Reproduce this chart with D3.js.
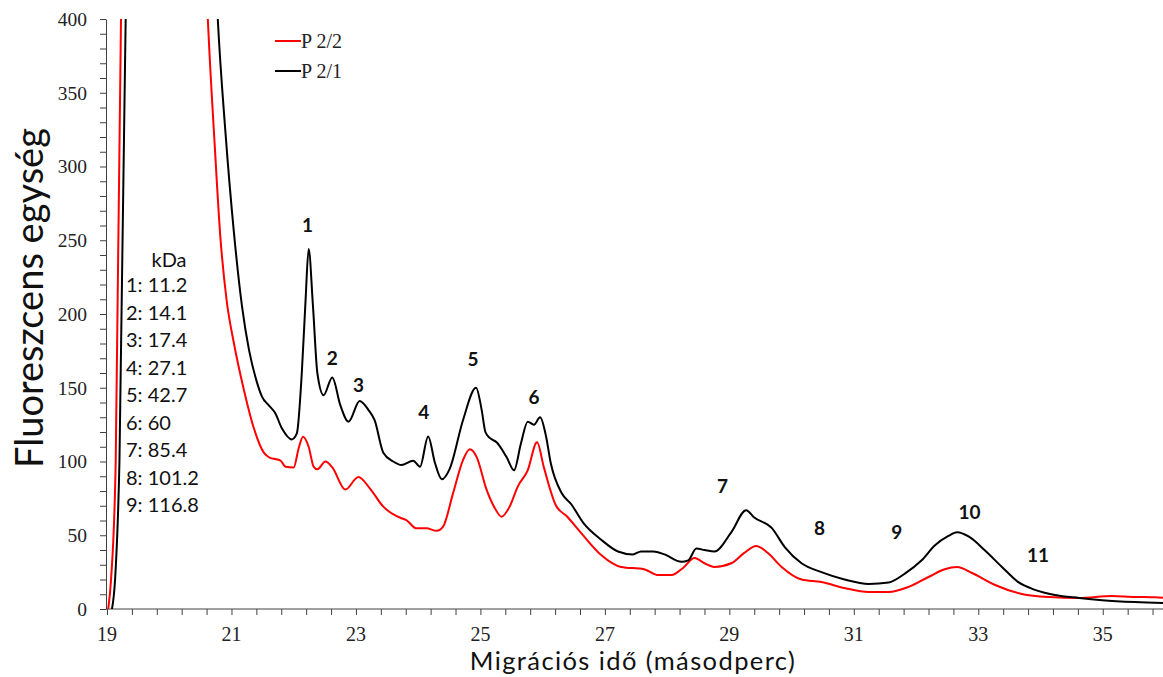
<!DOCTYPE html>
<html>
<head>
<meta charset="utf-8">
<script src="https://cdn.jsdelivr.net/npm/d3@7"></script>
<style>
  body { margin: 0; background: #fff; }
  svg { display: block; }
</style>
</head>
<body>
<div id="chart"></div>
<script>
// P 2/1 (black) – [migration time, fluorescence]
var p21 = [
  [19.08, 0], [19.13, 20], [19.2, 100], [19.3, 400], [19.34, 600],
  [20.6, 600], [20.78, 400], [20.9, 325], [21.04, 255], [21.17, 205],
  [21.28, 176], [21.4, 155], [21.49, 144], [21.6, 138], [21.7, 133], [21.81, 122.5],
  [21.97, 115], [22.05, 119], [22.13, 160],
  [22.19, 209], [22.24, 244], [22.31, 205], [22.38, 160], [22.48, 145], [22.62, 157],
  [22.75, 138], [22.88, 127], [23.06, 141], [23.2, 135], [23.3, 128], [23.44, 106],
  [23.6, 100], [23.73, 97.6], [23.92, 100.5], [24.03, 96.5], [24.16, 117], [24.27, 99],
  [24.38, 88], [24.51, 95.4], [24.72, 128], [24.93, 150], [25.02, 135], [25.08, 120],
  [25.15, 116], [25.26, 113], [25.42, 103], [25.54, 94], [25.65, 112], [25.76, 127], [25.86, 125],
  [25.96, 130], [26.05, 118], [26.13, 99], [26.3, 79], [26.46, 71], [26.66, 58],
  [26.94, 47], [27.21, 39], [27.45, 37], [27.58, 39], [27.78, 39], [27.96, 37],
  [28.23, 32], [28.34, 33], [28.47, 41], [28.6, 40], [28.76, 39], [29.03, 52],
  [29.27, 67], [29.4, 62], [29.68, 55], [29.89, 42], [30.16, 31], [30.48, 25],
  [30.85, 20], [31.24, 17], [31.56, 18], [31.82, 24], [32.09, 33], [32.3, 43],
  [32.52, 49.5], [32.66, 52], [32.85, 49], [33.1, 40], [33.38, 28.5], [33.65, 18],
  [33.91, 13], [34.23, 9.5], [34.62, 7.5], [34.99, 6], [35.52, 4.7], [36, 4]
];

// P 2/2 (red)
var p22 = [
  [19.02, 0], [19.065, 20], [19.14, 100], [19.225, 400], [19.26, 600],
  [20.45, 600], [20.62, 400], [20.73, 315], [20.82, 253], [20.92, 210], [21.04, 180],
  [21.2, 148.5], [21.36, 122.5], [21.52, 106], [21.62, 102.5], [21.72, 101.5],
  [21.79, 100.5], [21.87, 96.5],
  [22.0, 96], [22.08, 109], [22.15, 116.8], [22.24, 110], [22.32, 96.5], [22.38, 94.7],
  [22.51, 100], [22.62, 96], [22.83, 81], [23.04, 89.5], [23.22, 82], [23.44, 69.4],
  [23.73, 61.5], [23.81, 60.3], [23.97, 54.7], [24.13, 54.7], [24.3, 53], [24.4, 55.8],
  [24.56, 78.4], [24.72, 101], [24.83, 108.3], [24.94, 103], [25.1, 80.7], [25.23, 68.5],
  [25.34, 62.6], [25.47, 69.4], [25.6, 83], [25.76, 94],
  [25.91, 113], [26.02, 96], [26.21, 70.5], [26.4, 62.4], [26.62, 51.5], [26.94, 36.6],
  [27.26, 28.5], [27.63, 27], [27.86, 23], [28.07, 23], [28.26, 28], [28.44, 34.6],
  [28.6, 31], [28.76, 28.5], [29.03, 31], [29.24, 38], [29.43, 42.7], [29.62, 38],
  [29.84, 28.5], [30.16, 20], [30.48, 18.3], [30.85, 14.2], [31.24, 11.5], [31.56, 11.5],
  [31.88, 15], [32.2, 21.7], [32.46, 27], [32.66, 28.5], [32.9, 24.4], [33.27, 16.3],
  [33.7, 10.2], [34.14, 8.1], [34.62, 7.5], [35.15, 8.8], [35.52, 8.1], [35.84, 8],
  [36, 7.5]
];

var seriesNames = ["P 2/2", "P 2/1"];
var seriesColors = ["#ff0000", "#000000"];

var peakLabels = ["1", "2", "3", "4", "5", "6", "7", "8", "9", "10", "11"];
var peakX = [22.22, 22.62, 23.04, 24.09, 24.88, 25.86, 28.89, 30.45, 31.69, 32.86, 33.96];
var peakY = [260.3, 170.2, 151.9, 133.6, 169.5, 143.7, 83.4, 54.9, 52.2, 65.8, 36.3];

var kdaLines = ["1: 11.2", "2: 14.1", "3: 17.4", "4: 27.1", "5: 42.7",
                "6: 60", "7: 85.4", "8: 101.2", "9: 116.8"];

var xTicksMajor = [19, 21, 23, 25, 27, 29, 31, 33, 35];
var yTicksMajor = [0, 50, 100, 150, 200, 250, 300, 350, 400];

var W = 1163, H = 677;
var plotLeft = 106, plotTop = 19, plotBottom = 609, plotRight = 1165;

var x = d3.scaleLinear().domain([19, 36]).range([107, plotRight]);
var y = d3.scaleLinear().domain([0, 400]).range([plotBottom, plotTop]);

var svg = d3.select("#chart").append("svg")
  .attr("width", W)
  .attr("height", H);

svg.append("defs").append("clipPath").attr("id", "plot")
  .append("rect")
  .attr("x", plotLeft).attr("y", plotTop)
  .attr("width", W - plotLeft).attr("height", plotBottom - plotTop);

/* Axes */
var axisColor = "#404040";
var serif = "'Liberation Serif', 'Times New Roman', serif";
var sans = "Lato, 'Open Sans', sans-serif";

var xMinor = d3.range(0, 43).map(i => 19 + i * 0.4);
var yMinor = d3.range(0, 401, 10);

var gx = svg.append("g").attr("transform", `translate(0,${plotBottom})`);
gx.call(d3.axisBottom(x).tickValues(xMinor).tickSize(6).tickFormat(""));
gx.selectAll(".tick text").remove();
gx.selectAll("line, path").attr("stroke", axisColor);
gx.select(".domain").attr("d", `M${plotLeft},0H${W}`);
gx.selectAll(".xlab").data(xTicksMajor).enter().append("text")
  .attr("x", d => x(d)).attr("y", 32)
  .attr("text-anchor", "middle")
  .style("font-family", serif).style("font-size", "20px").attr("fill", "#222")
  .text(d => d);

var gy = svg.append("g").attr("transform", `translate(${plotLeft},0)`);
gy.call(d3.axisLeft(y).tickValues(yMinor).tickSize(6).tickSizeOuter(0).tickFormat(""));
gy.selectAll("line, path").attr("stroke", axisColor);
gy.selectAll(".ylab").data(yTicksMajor).enter().append("text")
  .attr("x", -19).attr("y", d => y(d))
  .attr("dy", "0.35em")
  .attr("text-anchor", "end")
  .style("font-family", serif).style("font-size", "19.5px").attr("fill", "#222")
  .text(d => d);

/* Lines */
var line = d3.line()
  .x(d => x(d[0]))
  .y(d => y(d[1]))
  .curve(d3.curveMonotoneX);

var lines = svg.append("g").attr("clip-path", "url(#plot)");
[p22, p21].forEach(function (data, i) {
  lines.append("path")
    .datum(data)
    .attr("d", line)
    .attr("fill", "none")
    .attr("stroke", seriesColors[i])
    .attr("stroke-width", 2)
    .attr("stroke-linejoin", "round");
});

/* Legend */
var legend = svg.append("g");
seriesNames.forEach(function (name, i) {
  var ly = 41 + i * 30;
  legend.append("line")
    .attr("x1", 275).attr("x2", 301).attr("y1", ly).attr("y2", ly)
    .attr("stroke", seriesColors[i]).attr("stroke-width", 2);
  legend.append("text")
    .attr("x", 301).attr("y", ly).attr("dy", "0.35em")
    .style("font-family", serif).style("font-size", "20px").attr("fill", "#222")
    .text(name);
});

/* Peak numbers */
svg.append("g").selectAll("text")
  .data(peakLabels).enter().append("text")
  .attr("x", (d, i) => x(peakX[i]))
  .attr("y", (d, i) => y(peakY[i]))
  .attr("dy", "0.35em")
  .attr("text-anchor", "middle")
  .style("font-family", sans).style("font-weight", "bold").style("font-size", "19px")
  .attr("fill", "#111")
  .text(d => d);

/* kDa list */
var kda = svg.append("g").style("font-family", sans).style("font-size", "20px").attr("fill", "#111");
kda.append("text").attr("x", 169).attr("y", 260).attr("dy", "0.35em")
  .attr("text-anchor", "middle").text("kDa");
kda.selectAll(".k").data(kdaLines).enter().append("text")
  .attr("x", 126).attr("y", (d, i) => 285 + i * 27.5).attr("dy", "0.35em")
  .text(d => d);

/* Axis titles */
svg.append("text")
  .attr("transform", "translate(30,298) rotate(-90)")
  .attr("text-anchor", "middle").attr("dy", "0.35em")
  .style("font-family", sans).style("font-size", "38px").attr("fill", "#111")
  .text("Fluoreszcens egység");

svg.append("text")
  .attr("x", 633).attr("y", 670)
  .attr("text-anchor", "middle")
  .style("font-family", sans).style("font-size", "25.5px")
  .style("letter-spacing", "1.4px").attr("fill", "#111")
  .text("Migrációs idő (másodperc)");
</script>
</body>
</html>
